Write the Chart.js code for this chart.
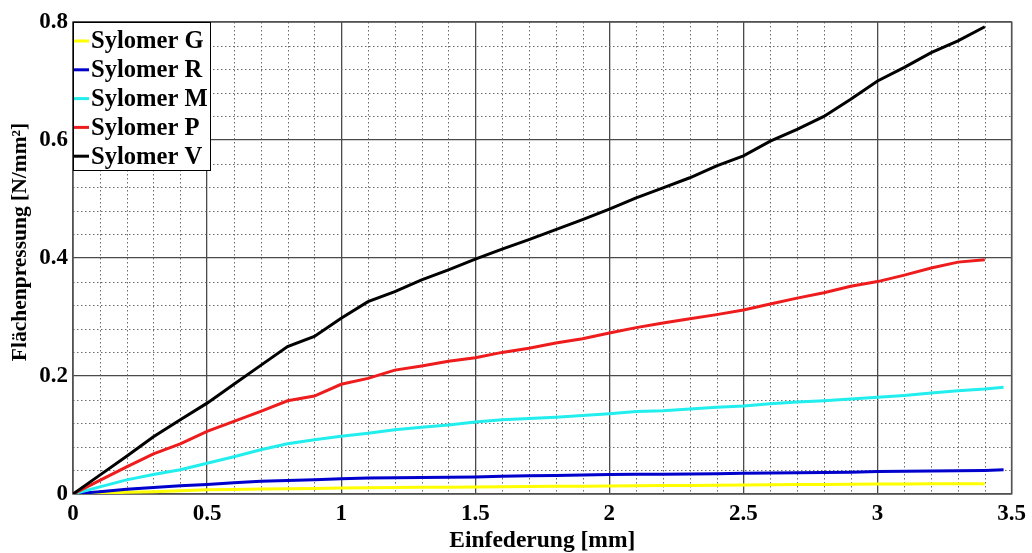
<!DOCTYPE html>
<html>
<head>
<meta charset="utf-8">
<script src="https://cdn.jsdelivr.net/npm/chart.js@4/dist/chart.umd.min.js"></script>
<style>
  html, body { margin: 0; padding: 0; background: #fff; }
  #wrap { width: 1032px; height: 553px; }
</style>
</head>
<body>
<div id="wrap"><canvas id="c" width="1032" height="553"></canvas></div>
<script>
// Einfederung [mm]
const deflection = [0, 0.1, 0.2, 0.3, 0.4, 0.5, 0.6, 0.7, 0.8, 0.9, 1.0, 1.1, 1.2, 1.3, 1.4, 1.5, 1.6, 1.7, 1.8, 1.9,
  2.0, 2.1, 2.2, 2.3, 2.4, 2.5, 2.6, 2.7, 2.8, 2.9, 3.0, 3.1, 3.2, 3.3, 3.4, 3.47];

// Flächenpressung [N/mm²]
const sylomerG = [0, 0.001, 0.003, 0.004, 0.0055, 0.007, 0.0078, 0.0085, 0.009, 0.0095, 0.010, 0.0105, 0.011, 0.0113,
  0.0116, 0.012, 0.0123, 0.0126, 0.013, 0.0133, 0.0136, 0.014, 0.0143, 0.0146, 0.015, 0.0153, 0.0156, 0.016, 0.0163,
  0.0166, 0.017, 0.0171, 0.0172, 0.0173, 0.0175];
const sylomerR = [0, 0.004, 0.008, 0.011, 0.014, 0.016, 0.019, 0.0215, 0.023, 0.024, 0.026, 0.027, 0.0275, 0.028,
  0.0285, 0.029, 0.030, 0.031, 0.0315, 0.032, 0.033, 0.0333, 0.0336, 0.034, 0.0345, 0.035, 0.0355, 0.036, 0.0365,
  0.037, 0.038, 0.0385, 0.039, 0.0395, 0.040, 0.041];
const sylomerM = [0, 0.012, 0.024, 0.033, 0.041, 0.052, 0.063, 0.075, 0.085, 0.092, 0.098, 0.103, 0.109, 0.113, 0.117,
  0.122, 0.126, 0.128, 0.130, 0.133, 0.136, 0.140, 0.141, 0.144, 0.147, 0.149, 0.153, 0.156, 0.158, 0.161, 0.164,
  0.167, 0.171, 0.175, 0.178, 0.181];
const sylomerP = [0, 0.023, 0.046, 0.068, 0.085, 0.106, 0.123, 0.140, 0.158, 0.166, 0.186, 0.196, 0.210, 0.217, 0.225,
  0.231, 0.240, 0.247, 0.256, 0.263, 0.273, 0.282, 0.290, 0.297, 0.304, 0.312, 0.322, 0.332, 0.341, 0.352, 0.360,
  0.371, 0.383, 0.393, 0.397];
const sylomerV = [0, 0.032, 0.064, 0.097, 0.126, 0.154, 0.186, 0.218, 0.250, 0.267, 0.298, 0.326, 0.343, 0.363, 0.380,
  0.398, 0.415, 0.431, 0.448, 0.465, 0.483, 0.502, 0.519, 0.536, 0.556, 0.573, 0.598, 0.618, 0.640, 0.669, 0.700,
  0.723, 0.748, 0.768, 0.792];

const seriesNames = ['Sylomer G', 'Sylomer R', 'Sylomer M', 'Sylomer P', 'Sylomer V'];
const seriesValues = [sylomerG, sylomerR, sylomerM, sylomerP, sylomerV];
const seriesColors = ['#ffff00', '#0000cc', '#22eeee', '#ee1c1c', '#000000'];

const xTitle = 'Einfederung [mm]';
const yTitle = 'Flächenpressung [N/mm²]';

const xMin = 0, xMax = 3.5, xMajor = 0.5, xMinor = 0.1;
const yMin = 0, yMax = 0.8, yMajor = 0.2, yMinor = 0.04;

const FONT = "'Liberation Serif', 'Times New Roman', serif";

const datasets = seriesValues.map((vals, i) => ({
  label: seriesNames[i],
  data: vals.map((v, k) => ({ x: deflection[k], y: v })),
  borderColor: seriesColors[i],
  backgroundColor: seriesColors[i],
  borderWidth: 3,
  pointRadius: 0,
  tension: 0,
  fill: false,
  order: seriesValues.length - i
}));

const gridPlugin = {
  id: 'minorGrid',
  beforeDatasetsDraw(chart) {
    const { ctx, chartArea: a, scales: { x, y } } = chart;
    ctx.save();
    ctx.strokeStyle = '#6a6a6a';
    ctx.lineWidth = 1;
    ctx.setLineDash([1.5, 2.5]);
    for (let i = 1; i * xMinor < xMax - 1e-9; i++) {
      if (i % Math.round(xMajor / xMinor) === 0) continue;
      const px = Math.round(x.getPixelForValue(i * xMinor)) + 0.5;
      ctx.beginPath(); ctx.moveTo(px, a.top); ctx.lineTo(px, a.bottom); ctx.stroke();
    }
    for (let j = 1; j * yMinor < yMax - 1e-9; j++) {
      if (j % Math.round(yMajor / yMinor) === 0) continue;
      const py = Math.round(y.getPixelForValue(j * yMinor)) + 0.5;
      ctx.beginPath(); ctx.moveTo(a.left, py); ctx.lineTo(a.right, py); ctx.stroke();
    }
    ctx.setLineDash([]);
    ctx.strokeStyle = '#555';
    ctx.lineWidth = 1.5;
    ctx.strokeRect(a.left, a.top, a.right - a.left, a.bottom - a.top);
    ctx.restore();
  },
  afterDraw(chart) {
    const { ctx, chartArea: a } = chart;
    ctx.save();
    // y axis title
    ctx.fillStyle = '#000';
    ctx.font = "bold 21.5px " + FONT;
    ctx.textAlign = 'center';
    ctx.textBaseline = 'middle';
    ctx.translate(20, (a.top + a.bottom) / 2 - 16);
    ctx.rotate(-Math.PI / 2);
    ctx.fillText(yTitle, 0, 0);
    ctx.restore();

    // legend
    ctx.save();
    const w = 137, rowH = 28.8, h = rowH * seriesNames.length + 4;
    ctx.fillStyle = '#fff';
    ctx.fillRect(a.left, a.top, w, h);
    ctx.strokeStyle = '#000';
    ctx.lineWidth = 1;
    ctx.strokeRect(a.left + 0.5, a.top + 0.5, w, h);
    ctx.font = "bold 24.6px " + FONT;
    ctx.textBaseline = 'middle';
    ctx.textAlign = 'left';
    seriesNames.forEach((name, i) => {
      const cy = a.top + 19 + i * rowH;
      ctx.strokeStyle = seriesColors[i];
      ctx.lineWidth = 3;
      ctx.beginPath(); ctx.moveTo(a.left + 1, cy); ctx.lineTo(a.left + 16, cy); ctx.stroke();
      ctx.fillStyle = '#000';
      ctx.fillText(name, a.left + 18, cy + 1);
    });
    ctx.restore();
  }
};

new Chart(document.getElementById('c'), {
  type: 'line',
  data: { datasets },
  plugins: [gridPlugin],
  options: {
    responsive: false,
    animation: false,
    parsing: true,
    layout: { padding: { left: 0, right: 18, top: 22, bottom: 0 } },
    plugins: { legend: { display: false }, tooltip: { enabled: false } },
    scales: {
      x: {
        type: 'linear',
        min: xMin, max: xMax,
        afterFit(s) { s.height = 59; },
        ticks: {
          stepSize: xMajor,
          color: '#000',
          padding: 6,
          maxRotation: 0,
          font: { family: FONT, size: 23, weight: 'bold' },
          callback: v => String(Math.round(v * 100) / 100)
        },
        grid: { color: '#4a4a4a', lineWidth: 1.3, drawTicks: false },
        border: { display: false },
        title: {
          display: true,
          text: xTitle,
          color: '#000',
          font: { family: FONT, size: 23.5, weight: 'bold', lineHeight: 1.2 },
          padding: { top: 0, bottom: -2 }
        }
      },
      y: {
        type: 'linear',
        min: yMin, max: yMax,
        afterFit(s) { s.width = 73; },
        ticks: {
          stepSize: yMajor,
          color: '#000',
          padding: 5,
          font: { family: FONT, size: 23, weight: 'bold' },
          callback: v => String(Math.round(v * 100) / 100)
        },
        grid: { color: '#4a4a4a', lineWidth: 1.3, drawTicks: false },
        border: { display: false },
        title: { display: false }
      }
    }
  }
});
</script>
</body>
</html>
